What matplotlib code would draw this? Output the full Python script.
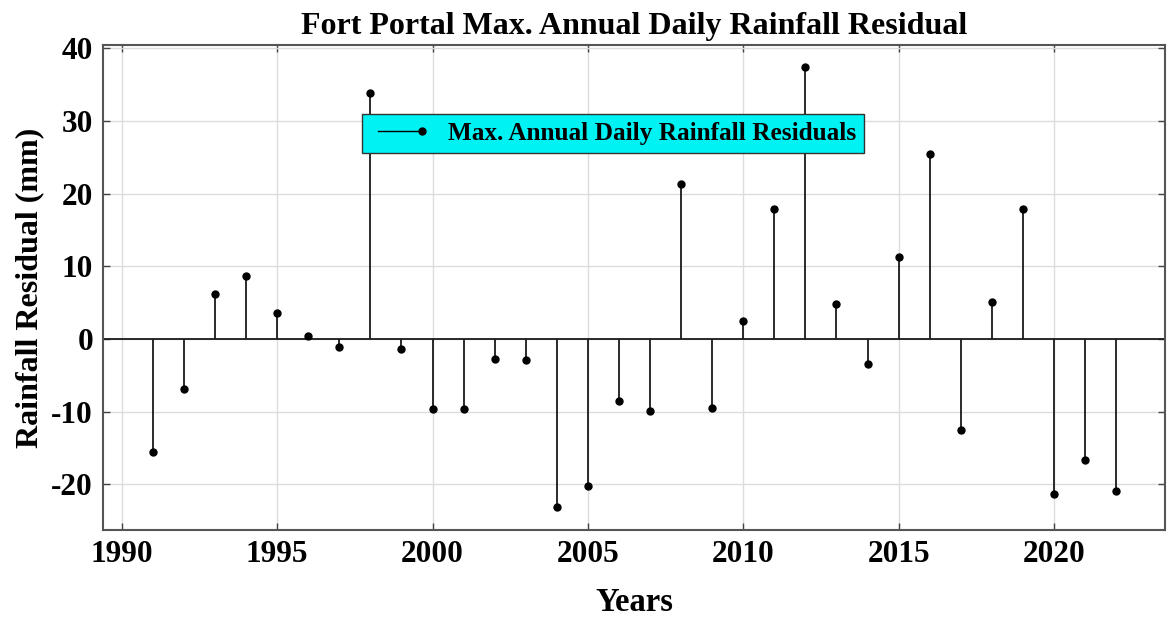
import numpy as np
import matplotlib
matplotlib.use('Agg')
import matplotlib.pyplot as plt
from matplotlib.legend_handler import HandlerBase
from matplotlib.lines import Line2D

# residuos da chuva diaria maxima anual - Fort Portal
years = np.arange(1991, 2023)
residuals = [-15.5, -6.9, 6.2, 8.7, 3.6, 0.4, -1.1, 33.8, -1.4, -9.6,
             -9.6, -2.7, -2.9, -23.2, -20.2, -8.5, -9.9, 21.3, -9.5, 2.5,
             17.9, 37.4, 4.8, -3.4, 11.3, 25.5, -12.6, 5.1, 17.9, -21.3,
             -16.6, -21.0]

x_ticks = [1990, 1995, 2000, 2005, 2010, 2015, 2020]
y_ticks = [-20, -10, 0, 10, 20, 30, 40]


class StemHandler(HandlerBase):
    # linha horizontal com o marcador na ponta direita (estilo stem)
    def create_artists(self, legend, orig_handle, xdescent, ydescent,
                       width, height, fontsize, trans):
        y = height / 2 - ydescent
        x0 = -xdescent + 0.16 * width
        x1 = width - xdescent
        line = Line2D([x0, x1], [y, y], color='k', lw=1.0)
        dot = Line2D([x1], [y], marker='o', ms=5, color='k', ls='none')
        line.set_transform(trans)
        dot.set_transform(trans)
        return [line, dot]


plt.rcParams['font.family'] = ['Liberation Serif', 'DejaVu Serif']
plt.rcParams['font.weight'] = 'bold'
plt.rcParams['axes.unicode_minus'] = False

fig = plt.figure(figsize=(11.68, 6.19), dpi=100)
ax = fig.add_axes([0.088, 0.1438, 0.9094, 0.7835])

ax.grid(True, color='#dcdcdc', lw=1.0)
ax.set_axisbelow(True)

markerline, stemlines, baseline = ax.stem(years, residuals, basefmt=' ')
plt.setp(stemlines, color='#1a1a1a', lw=1.3)
plt.setp(markerline, color='k', ms=5)
ax.axhline(0, color='#1a1a1a', lw=1.3, zorder=1.5)

ax.set_xlim(1989.39, 2023.57)
ax.set_ylim(-26.3, 40.45)
ax.set_xticks(x_ticks)
ax.set_yticks(y_ticks)
ax.tick_params(direction='in', top=True, right=True, length=5, width=1,
               color='#444444', labelsize=22.5, pad=7)
for lbl in ax.get_xticklabels() + ax.get_yticklabels():
    lbl.set_fontweight('bold')
for s in ax.spines.values():
    s.set_color('#555555')
    s.set_linewidth(1.5)

ax.set_title('Fort Portal Max. Annual Daily Rainfall Residual',
             fontsize=23, fontweight='bold', pad=8)
ax.set_xlabel('Years', fontsize=23.5, fontweight='bold', labelpad=13)
ax.set_ylabel('Rainfall Residual (mm)', fontsize=23, fontweight='bold', labelpad=5)

proxy = Line2D([], [])
leg = ax.legend([proxy], ['Max. Annual Daily Rainfall Residuals'],
                handler_map={Line2D: StemHandler()},
                loc='upper left', bbox_to_anchor=(0.244, 0.858), borderaxespad=0,
                fancybox=False, framealpha=1, facecolor='#00f2f2',
                edgecolor='#333333', handlelength=2.07, handletextpad=1.0,
                borderpad=0.32, prop={'size': 18.2, 'weight': 'bold'})
leg.get_frame().set_linewidth(1.0)

plt.savefig('out.png', dpi=100)
